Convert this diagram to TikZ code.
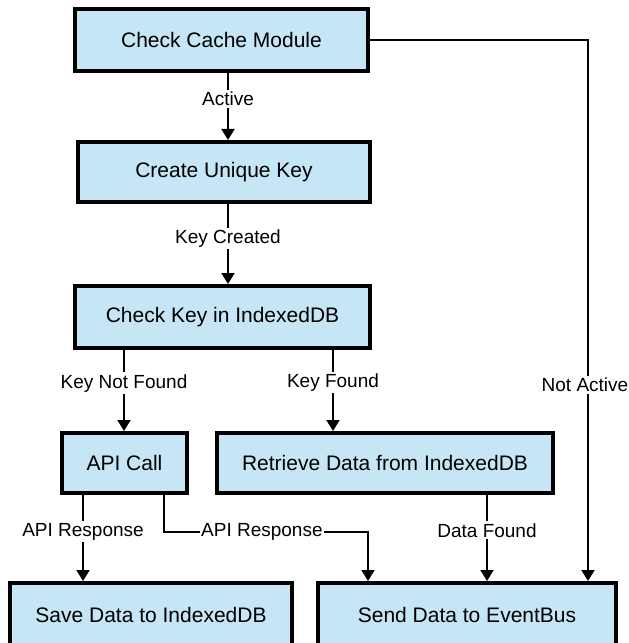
\documentclass[tikz,border=0pt]{standalone}
\usepackage{fontspec}
\setmainfont{Liberation Sans}
\usetikzlibrary{arrows.meta}
\definecolor{boxblue}{RGB}{198,229,245}
\begin{document}
\begin{tikzpicture}[x=1bp,y=-1bp,
  box/.style={draw=black, line width=4bp, fill=boxblue, inner sep=0pt, font=\fontsize{21bp}{25bp}\selectfont},
  lbl/.style={fill=white, inner xsep=1.5bp, inner ysep=2bp, font=\fontsize{19bp}{23bp}\selectfont},
  arr/.style={line width=2bp, -{Triangle[width=13bp,length=11bp]}}]
\useasboundingbox (0,0) rectangle (629,643);
\node[box, minimum width=293bp, minimum height=62bp] (b1) at (221.5,40) {Check Cache Module};
\node[box, minimum width=292bp, minimum height=60bp] (b2) at (224,172) {Create Unique Key};
\node[box, minimum width=295bp, minimum height=62bp] (b3) at (222.5,317) {Check Key in IndexedDB};
\node[box, minimum width=125bp, minimum height=60bp] (b4) at (124.5,463) {API Call};
\node[box, minimum width=336bp, minimum height=60bp] (b5) at (385,463) {Retrieve Data from IndexedDB};
\node[box, minimum width=282bp, minimum height=66bp] (b6) at (151,616) {\raisebox{3bp}{Save Data to IndexedDB}};
\node[box, minimum width=298bp, minimum height=66bp] (b7) at (467,616) {\raisebox{3bp}{Send Data to EventBus}};
% connector x positions
\coordinate (xa) at (228,0);
\coordinate (xkn) at (124,0);
\coordinate (xkf) at (333,0);
\coordinate (xr1) at (83,0);
\coordinate (xr2) at (164,0);
\coordinate (xr3) at (368,0);
\coordinate (xdf) at (487,0);
\coordinate (xna) at (588,0);
\coordinate (turn1) at (164,532);
\coordinate (turn2) at (368,532);
\draw[arr] (b1.south -| xa) -- node[lbl, pos=0.39] {Active} (b2.north -| xa);
\draw[arr] (b2.south -| xa) -- node[lbl, pos=0.43] {Key Created} (b3.north -| xa);
\draw[arr] (b3.south -| xkn) -- node[lbl, pos=0.41] {Key Not Found} (b4.north -| xkn);
\draw[arr] (b3.south -| xkf) -- node[lbl, pos=0.40] {Key Found} (b5.north -| xkf);
\draw[arr] (b4.south -| xr1) -- node[lbl, pos=0.43] {API Response} (b6.north -| xr1);
\draw[arr] (b4.south -| xr2) -- (turn1) -- node[lbl, pos=0.48] {API Response} (turn2) -- (b7.north -| xr3);
\draw[arr] (b5.south -| xdf) -- node[lbl, pos=0.41] {Data Found} (b7.north -| xdf);
\draw[arr] (b1.east) -- (b1.east -| xna) -- node[lbl, pos=0.637, xshift=-3bp] {Not Active} (b7.north -| xna);
\end{tikzpicture}
\end{document}
